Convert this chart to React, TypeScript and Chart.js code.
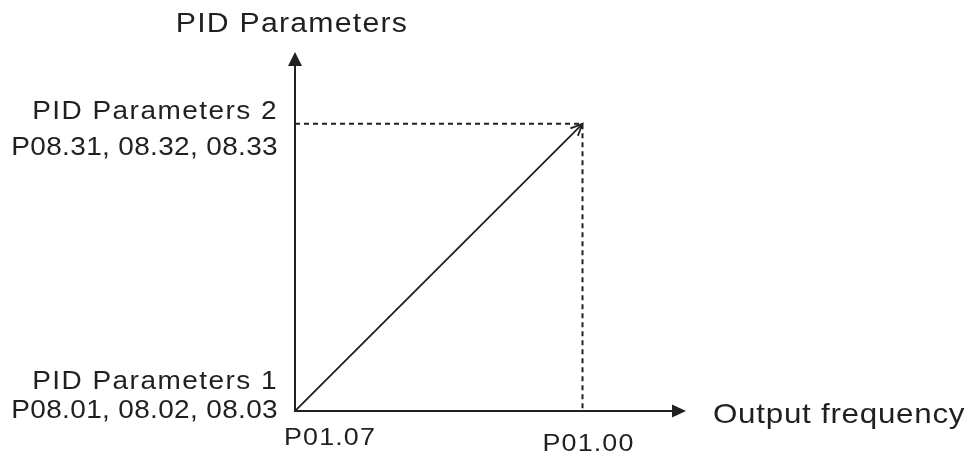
import React, { useEffect, useRef } from "react";
import { Chart, registerables } from "chart.js";

Chart.register(...registerables);

// ---- data ----
const xTickValues = [0, 1];
const xTickLabels = ["P01.07", "P01.00"];
const yTickValues = [0, 1];
const yTickLabels = [
  ["PID Parameters 1", "P08.01, 08.02, 08.03"],
  ["PID Parameters 2", "P08.31, 08.32, 08.33"],
];
const lineX = [0, 1];
const lineY = [0, 1];
const guideX = [0, 1, 1];
const guideY = [1, 1, 0];
const xAxisTitle = "Output frequency";
const yAxisTitle = "PID Parameters";
const xMax = 1.36;
const yMax = 1.25;

const INK = "#231f20";
const FONT = "'Liberation Sans', Arial, sans-serif";
const SX = 1.12;

function drawText(
  ctx: CanvasRenderingContext2D,
  text: string,
  x: number,
  y: number,
  align: CanvasTextAlign,
  size: number,
  ls: number
) {
  ctx.save();
  ctx.translate(x, y);
  ctx.scale(SX, 1);
  ctx.font = `${size}px ${FONT}`;
  (ctx as any).letterSpacing = `${ls}px`;
  ctx.textAlign = align;
  ctx.textBaseline = "alphabetic";
  ctx.fillText(text, 0, 0);
  ctx.restore();
}

const diagramPlugin = {
  id: "diagram",
  afterDatasetsDraw(chart: any) {
    const ctx = chart.ctx as CanvasRenderingContext2D;
    const xs = chart.scales.x;
    const ys = chart.scales.y;
    const x0 = xs.getPixelForValue(0);
    const y0 = ys.getPixelForValue(0);
    const xEnd = xs.getPixelForValue(xMax);
    const yEnd = ys.getPixelForValue(yMax);
    ctx.save();
    ctx.strokeStyle = INK;
    ctx.fillStyle = INK;
    ctx.lineWidth = 2;
    ctx.setLineDash([]);
    // axes
    ctx.beginPath();
    ctx.moveTo(x0, y0);
    ctx.lineTo(x0, yEnd + 10);
    ctx.moveTo(x0 - 1, y0);
    ctx.lineTo(xEnd - 10, y0);
    ctx.stroke();
    // y arrow head
    ctx.beginPath();
    ctx.moveTo(x0, yEnd);
    ctx.lineTo(x0 - 7, yEnd + 14);
    ctx.lineTo(x0 + 7, yEnd + 14);
    ctx.closePath();
    ctx.fill();
    // x arrow head
    ctx.beginPath();
    ctx.moveTo(xEnd, y0);
    ctx.lineTo(xEnd - 14, y0 - 6.5);
    ctx.lineTo(xEnd - 14, y0 + 6.5);
    ctx.closePath();
    ctx.fill();
    // open arrow on diagonal end
    const n = lineX.length - 1;
    const ex = xs.getPixelForValue(lineX[n]);
    const ey = ys.getPixelForValue(lineY[n]);
    const sx = xs.getPixelForValue(lineX[n - 1]);
    const sy = ys.getPixelForValue(lineY[n - 1]);
    const ang = Math.atan2(ey - sy, ex - sx);
    const L = 13;
    const spread = 0.42;
    ctx.lineWidth = 1.8;
    ctx.beginPath();
    ctx.moveTo(ex - L * Math.cos(ang - spread), ey - L * Math.sin(ang - spread));
    ctx.lineTo(ex, ey);
    ctx.lineTo(ex - L * Math.cos(ang + spread), ey - L * Math.sin(ang + spread));
    ctx.stroke();

    // texts
    drawText(ctx, yAxisTitle, x0 - 3, 32, "center", 27, 1.1);
    const yOffsets = [
      [-22, 7],
      [-5, 31],
    ];
    yTickValues.forEach((v, i) => {
      const py = ys.getPixelForValue(v);
      drawText(ctx, yTickLabels[i][0], x0 - 17, py + yOffsets[i][0], "right", 25, 1.3);
      drawText(ctx, yTickLabels[i][1], x0 - 17, py + yOffsets[i][1], "right", 25, 0.3);
    });
    const xOffsets = [
      [35, 34],
      [6, 40],
    ];
    xTickValues.forEach((v, i) => {
      const px = xs.getPixelForValue(v);
      drawText(ctx, xTickLabels[i], px + xOffsets[i][0], y0 + xOffsets[i][1], "center", 24, 1);
    });
    drawText(ctx, xAxisTitle, xEnd + 27, y0 + 12, "left", 28, 0.65);
    ctx.restore();
  },
};

export default function App() {
  const ref = useRef<HTMLCanvasElement | null>(null);
  useEffect(() => {
    if (!ref.current) return;
    const chart = new Chart(ref.current, {
      type: "scatter",
      data: {
        datasets: [
          {
            label: "guide",
            data: guideX.map((x, i) => ({ x, y: guideY[i] })),
            showLine: true,
            borderColor: INK,
            borderWidth: 2,
            borderDash: [5, 4],
            pointRadius: 0,
            fill: false,
          },
          {
            label: "line",
            data: lineX.map((x, i) => ({ x, y: lineY[i] })),
            showLine: true,
            borderColor: INK,
            borderWidth: 1.8,
            pointRadius: 0,
            fill: false,
          },
        ],
      },
      options: {
        animation: false,
        responsive: false,
        maintainAspectRatio: false,
        layout: { padding: { left: 295, right: 288, top: 52, bottom: 41 } },
        plugins: {
          legend: { display: false },
          tooltip: { enabled: false },
          title: { display: false },
        },
        scales: {
          x: { type: "linear", min: 0, max: xMax, display: false },
          y: { type: "linear", min: 0, max: yMax, display: false },
        },
        events: [],
      },
      plugins: [diagramPlugin],
    });
    return () => chart.destroy();
  }, []);
  return (
    <div style={{ position: "absolute", left: 0, top: 0, width: 974, height: 452, background: "#fff" }}>
      <canvas ref={ref} width={974} height={452} style={{ width: 974, height: 452 }} />
    </div>
  );
}
